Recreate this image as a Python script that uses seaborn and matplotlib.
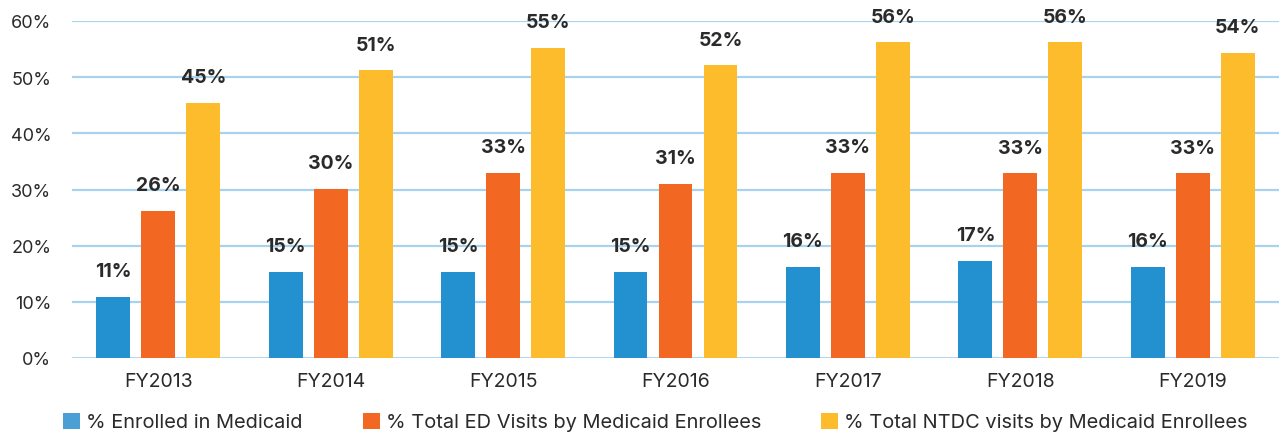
import matplotlib
matplotlib.use("Agg")
import matplotlib.pyplot as plt
from matplotlib.patches import Patch
import seaborn as sns
import pandas as pd

years = ["FY2013", "FY2014", "FY2015", "FY2016", "FY2017", "FY2018", "FY2019"]
series_names = [
    "% Enrolled in Medicaid",
    "% Total ED Visits by Medicaid Enrollees",
    "% Total NTDC visits by Medicaid Enrollees",
]
enrolled = [10.9, 15.3, 15.3, 15.3, 16.2, 17.3, 16.2]
ed_visits = [26.2, 30.1, 33.0, 31.0, 33.0, 32.9, 32.9]
ntdc_visits = [45.4, 51.2, 55.2, 52.1, 56.2, 56.2, 54.3]
y_ticks = [0, 10, 20, 30, 40, 50, 60]

colors = ["#2391d0", "#f26722", "#fdbc2c"]
legend_colors = ["#4a9fd5", "#f26722", "#fdbc2c"]
grid_color = "#a9d2ef"
text_color = "#2a2a2a"

sns.set_theme(style="white")
plt.rcParams["font.family"] = ["Inter", "DejaVu Sans"]

df = pd.DataFrame({
    "year": years * 3,
    "series": [series_names[0]] * 7 + [series_names[1]] * 7 + [series_names[2]] * 7,
    "value": enrolled + ed_visits + ntdc_visits,
})

W, H = 1283, 439
fig = plt.figure(figsize=(W / 100, H / 100), dpi=100)
ax = fig.add_axes([72 / W, (H - 359) / H, (1279 - 72) / W, (359 - 22) / H])

sns.barplot(data=df, x="year", y="value", hue="series", hue_order=series_names,
            palette=colors, width=0.783, gap=0.245, legend=False, ax=ax,
            saturation=1, zorder=3, linewidth=0, edgecolor="none")

ax.set_ylim(0, 60)
ax.set_xlim(-0.5, len(years) - 0.5)
ax.set_yticks(y_ticks)
ax.set_yticklabels([f"{t}%" for t in y_ticks])
ax.set_xlabel("")
ax.set_ylabel("")
for t in y_ticks:
    ax.axhline(t, color=grid_color, lw=1.6 if t else 2.0, zorder=1)
for s in ax.spines.values():
    s.set_visible(False)
ax.tick_params(axis="y", length=0, pad=15, labelsize=13, labelcolor=text_color)
ax.tick_params(axis="x", length=0, pad=10, labelsize=14, labelcolor=text_color)

for cont in ax.containers:
    ax.bar_label(cont, fmt="%.0f%%", padding=12, fontsize=14,
                 fontweight="bold", color=text_color)

lefts = [63, 363, 821]
for name, col, x in zip(series_names, legend_colors, lefts):
    fig.legend(handles=[Patch(facecolor=col, edgecolor="none", label=name)],
               loc="center left", bbox_to_anchor=(x / W, (H - 423) / H),
               frameon=False, borderpad=0, borderaxespad=0,
               handlelength=0.85, handleheight=0.85, handletextpad=0.3,
               fontsize=14.4, labelcolor=text_color)

fig.savefig("out.png", dpi=100)
